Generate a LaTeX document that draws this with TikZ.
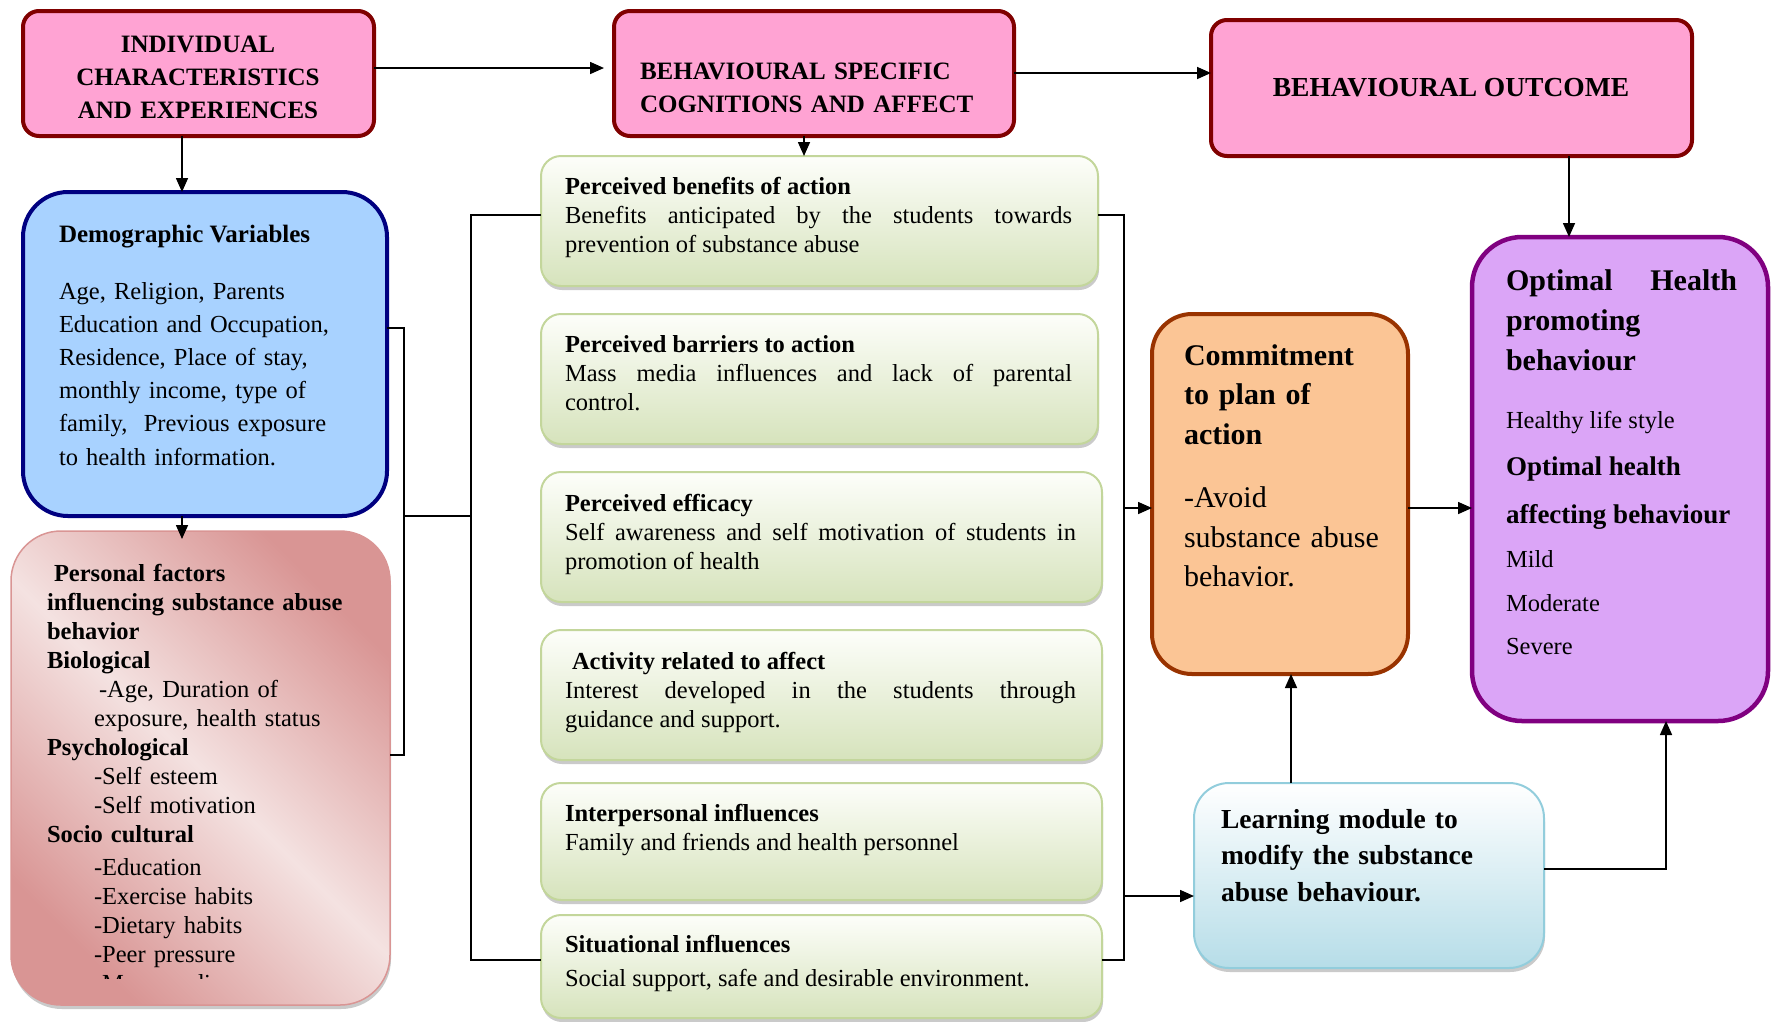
\documentclass[tikz,border=0pt]{standalone}
\usepackage{fontspec}
\setmainfont{Liberation Serif}
\usetikzlibrary{arrows.meta,shadows}

\definecolor{pinkfill}{HTML}{FFA3D3}
\definecolor{pinkline}{HTML}{800000}
\definecolor{bluefill}{HTML}{A8D2FF}
\definecolor{blueline}{HTML}{000080}
\definecolor{rosedark}{HTML}{D99594}
\definecolor{roselight}{HTML}{F4E2E1}
\definecolor{greentop}{HTML}{FDFEFA}
\definecolor{greenbot}{HTML}{D6E3BC}
\definecolor{greenline}{HTML}{C3D69B}
\definecolor{orangefill}{HTML}{FBC595}
\definecolor{orangeline}{HTML}{993300}
\definecolor{violetfill}{HTML}{DBA5F7}
\definecolor{violetline}{HTML}{800080}
\definecolor{cyanbot}{HTML}{B6DDE8}
\definecolor{cyanline}{HTML}{92CDDC}

\begin{document}
\begin{tikzpicture}[x=1pt,y=-1pt,
  box/.style={rounded corners=#1, inner sep=0pt, outer sep=0pt, anchor=north west},
  box/.default=18pt,
  shadowed/.style={drop shadow={shadow xshift=1pt, shadow yshift=-4pt, fill=gray!70, opacity=0.6}},
  headbox/.style={box=16pt, fill=pinkfill, draw=pinkline, line width=4pt},
  demobox/.style={box=45pt, fill=bluefill, draw=blueline, line width=4pt},
  persbox/.style={box=50pt, draw=rosedark, line width=1.5pt, top color=rosedark, bottom color=rosedark, middle color=roselight, shading angle=-45, shadowed},
  greenbox/.style={box=20pt, draw=greenline, line width=2pt, top color=greentop, bottom color=greenbot, shadowed},
  commitbox/.style={box=40pt, fill=orangefill, draw=orangeline, line width=4pt},
  optbox/.style={box=50pt, fill=violetfill, draw=violetline, line width=4.5pt},
  learnbox/.style={box=35pt, draw=cyanline, line width=2pt, top color=white, bottom color=cyanbot, shadowed},
  txt/.style={inner sep=0pt, outer sep=0pt, anchor=base west, font=\fontsize{24.5}{29}\selectfont},
  gtxt/.style={txt, align=justify},
  ln/.style={line width=1.6pt},
  arr/.style={line width=1.6pt, -{Triangle[length=14pt,width=12pt]}}
]
\useasboundingbox (0,0) rectangle (1771,1021);

% ---------- boxes ----------
\node[headbox, minimum width=351pt, minimum height=125pt] (indiv) at (23,11) {};
\node[headbox, minimum width=400pt, minimum height=125pt] (bsc) at (614,11) {};
\node[headbox, minimum width=481pt, minimum height=136pt] (bo) at (1211,20) {};
\node[demobox, minimum width=364pt, minimum height=324pt] (demo) at (23,192) {};
\node[persbox, minimum width=379pt, minimum height=474pt] (pers) at (11,531) {};
\node[greenbox, minimum width=557pt, minimum height=130pt] (g1) at (541,156) {};
\node[greenbox, minimum width=557pt, minimum height=130pt] (g2) at (541,314) {};
\node[greenbox, minimum width=561pt, minimum height=130pt] (g3) at (541,472) {};
\node[greenbox, minimum width=561pt, minimum height=130pt] (g4) at (541,630) {};
\node[greenbox, minimum width=561pt, minimum height=117pt] (g5) at (541,783) {};
\node[greenbox, minimum width=561pt, minimum height=103pt] (g6) at (541,915) {};
\node[commitbox, minimum width=256pt, minimum height=360pt] (commit) at (1152,314) {};
\node[optbox, minimum width=296pt, minimum height=484pt] (opt) at (1472,237) {};
\node[learnbox, minimum width=350pt, minimum height=185pt] (learn) at (1194,783) {};

% ---------- texts ----------
\node[txt, anchor=base, text width=340pt, align=center, font=\fontsize{25}{33}\selectfont\bfseries] (tindiv) at (198,52)
  {INDIVIDUAL\\CHARACTERISTICS\\AND EXPERIENCES};
\node[txt, text width=360pt, align=left, font=\fontsize{25}{33}\selectfont\bfseries] (tbsc) at (640,79)
  {BEHAVIOURAL SPECIFIC\\COGNITIONS AND AFFECT};
\node[txt, anchor=base, font=\fontsize{27.5}{33}\selectfont\bfseries] (tbo) at (1451,96) {BEHAVIOURAL OUTCOME};

\node[txt, font=\fontsize{25}{29}\selectfont\bfseries] (tdemo1) at (59,242) {Demographic Variables};
\node[txt, text width=320pt, align=left, font=\fontsize{24.5}{33.2}\selectfont] (tdemo2) at (59,299)
  {Age, Religion, Parents\\Education and Occupation,\\Residence, Place of stay,\\monthly income, type of\\family,\ \ Previous exposure\\to health information.};

\begin{scope}
\clip (11,531) rectangle (390,978);
\node[txt, text width=335pt, align=left] (tpers) at (47,581)
  {\hspace*{7pt}\textbf{Personal factors}\\
   \textbf{influencing substance abuse}\\
   \textbf{behavior}\\
   \textbf{Biological}\\
   \hspace*{52pt}-Age, Duration of\\
   \hspace*{47pt}exposure, health status\\
   \textbf{Psychological}\\
   \hspace*{47pt}-Self esteem\\
   \hspace*{47pt}-Self motivation\\
   \textbf{Socio cultural}\\[4pt]
   \hspace*{47pt}-Education\\
   \hspace*{47pt}-Exercise habits\\
   \hspace*{47pt}-Dietary habits\\
   \hspace*{47pt}-Peer pressure\\
   \hspace*{47pt}-Mass media};
\end{scope}

\node[gtxt, text width=507pt] (tg1) at (565,194)
  {\textbf{Perceived benefits of action}\\Benefits anticipated by the students towards\linebreak prevention of substance abuse};
\node[gtxt, text width=507pt] (tg2) at (565,352)
  {\textbf{Perceived barriers to action}\\Mass media influences and lack of parental\linebreak control.};
\node[gtxt, text width=511pt] (tg3) at (565,511)
  {\textbf{Perceived efficacy}\\Self awareness and self motivation of students in\linebreak promotion of health};
\node[gtxt, text width=511pt] (tg4) at (565,669)
  {\hspace*{7pt}\textbf{Activity related to affect}\\Interest developed in the students through\linebreak guidance and support.};
\node[gtxt, text width=511pt] (tg5) at (565,821)
  {\textbf{Interpersonal influences}\\Family and friends and health personnel};
\node[gtxt, text width=511pt, font=\fontsize{24.5}{34}\selectfont] (tg6) at (565,952)
  {\textbf{Situational influences}\\Social support, safe and desirable environment.};

\node[txt, text width=225pt, align=left, font=\fontsize{30}{39.5}\selectfont] (tcommit) at (1184,365)
  {\textbf{Commitment}\\\textbf{to plan of}\\\textbf{action}\\[24pt]-Avoid\\substance abuse\\behavior.};

\node[txt, text width=231pt, align=left, font=\fontsize{30}{40}\selectfont\bfseries] (topt1) at (1506,290)
  {\hbox to 231pt{Optimal\hfill Health}\\promoting\\behaviour};
\node[txt] (topt2) at (1506,428) {Healthy life style};
\node[txt, font=\fontsize{27}{33}\selectfont\bfseries] (topt3) at (1506,475) {Optimal health};
\node[txt, font=\fontsize{27}{33}\selectfont\bfseries] (topt4) at (1506,523) {affecting behaviour};
\node[txt] (topt5) at (1506,567) {Mild};
\node[txt] (topt6) at (1506,611) {Moderate};
\node[txt] (topt7) at (1506,654) {Severe};

\node[txt, text width=300pt, align=left, font=\fontsize{27.5}{36.5}\selectfont\bfseries] (tlearn) at (1221,828)
  {Learning module to\\modify the substance\\abuse behaviour.};

% ---------- connectors ----------
\coordinate (c1) at (182,0);
\coordinate (c2) at (804,0);
\coordinate (c3) at (1569,0);
\coordinate (c4) at (1291,0);
\coordinate (r1) at (0,68);
\coordinate (r2) at (0,73);
\coordinate (lb1) at (404,328);
\coordinate (lb2) at (404,755);
\coordinate (lb3) at (404,516);
\coordinate (lx1) at (471,215);
\coordinate (lx2) at (471,960);
\coordinate (rx1) at (1124,215);
\coordinate (rx2) at (1124,960);
\coordinate (ry1) at (1124,508);
\coordinate (ry2) at (1124,896);
\coordinate (ry3) at (1666,869);

\draw[arr, shorten >=10pt] (indiv.east |- r1) -- (bsc.west |- r1);
\draw[arr] (bsc.east |- r2) -- (bo.west |- r2);
\draw[arr] (indiv.south -| c1) -- (demo.north -| c1);
\draw[arr] (demo.south -| c1) -- ([yshift=-8pt]pers.north -| c1);
\draw[arr] (bsc.south -| c2) -- (g1.north -| c2);
\draw[arr] (bo.south -| c3) -- (opt.north -| c3);

\draw[ln] (demo.east |- lb1) -- (lb1) -- (lb2) -- (pers.east |- lb2);
\draw[ln] (lb3) -- (lx1 |- lb3);
\draw[ln] (g1.west |- lx1) -- (lx1) -- (lx2) -- (g6.west |- lx2);
\draw[ln] (g1.east |- rx1) -- (rx1) -- (rx2) -- (g6.east |- rx2);

\draw[arr] (ry1) -- (commit.west |- ry1);
\draw[arr] (ry2) -- (learn.west |- ry2);
\draw[arr] (commit.east |- ry1) -- (opt.west |- ry1);
\draw[arr] (learn.north -| c4) -- (commit.south -| c4);
\draw[arr] (learn.east |- ry3) -- (ry3) -- (opt.south -| ry3);
\end{tikzpicture}
\end{document}
